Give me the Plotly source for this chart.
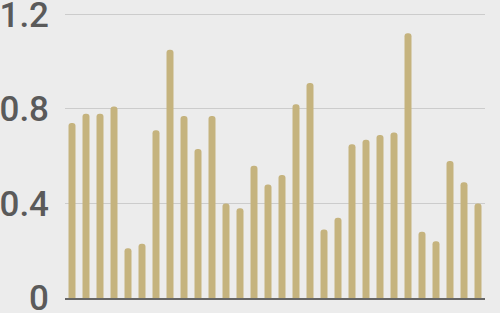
import plotly.graph_objects as go

categories = list(range(1, 31))
values = [0.74, 0.78, 0.78, 0.81, 0.21, 0.23, 0.71, 1.05, 0.77, 0.63,
          0.77, 0.40, 0.38, 0.56, 0.48, 0.52, 0.82, 0.91, 0.29, 0.34,
          0.65, 0.67, 0.69, 0.70, 1.12, 0.28, 0.24, 0.58, 0.49, 0.40]
tick_vals = [0, 0.4, 0.8, 1.2]
tick_text = ["0", "0.4", "0.8", "1.2"]

fig = go.Figure(go.Bar(
    x=categories, y=values,
    marker=dict(color="#c5b37e", cornerradius=4, line=dict(width=0)),
    hoverinfo="skip",
))

fig.update_layout(
    width=500, height=313,
    margin=dict(l=65, r=15, t=12, b=15),
    paper_bgcolor="#ececec", plot_bgcolor="#ececec",
    bargap=0.5,
    showlegend=False,
    xaxis=dict(visible=True, showticklabels=False, showgrid=False, zeroline=False,
               showline=True, linecolor="#666666", linewidth=1.5,
               range=[0.5, 30.5], ticks="", automargin=False),
    yaxis=dict(range=[0, 1.21], tickvals=tick_vals, ticktext=tick_text,
               showgrid=True, gridcolor="#cccccc", gridwidth=1,
               zeroline=False, showline=False, ticks="",
               ticklabelstandoff=15, automargin=False,
               ticklabeloverflow="allow",
               tickfont=dict(family="Roboto", size=35, color="#5a5a5a",
                             weight=500)),
)

fig.write_html("out.html")
